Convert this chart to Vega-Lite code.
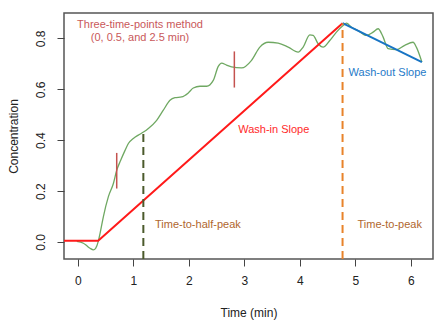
{
  "$schema": "https://vega.github.io/schema/vega-lite/v6.json",
  "autosize": "none",
  "width": 369,
  "height": 246,
  "padding": {"left": 64, "top": 13, "right": 2, "bottom": 62},
  "background": "white",
  "config": {
    "font": "Liberation Sans",
    "view": {"stroke": "#555555", "strokeWidth": 1.5},
    "axis": {"grid": false, "domain": false, "tickColor": "#444444", "tickSize": 7, "labelFont": "Liberation Sans", "titleFont": "Liberation Sans", "labelFontSize": 12, "titleFontSize": 12, "labelColor": "#222222", "titleColor": "#222222", "titleFontWeight": "normal"}
  },
  "encoding": {
    "x": {"field": "t", "type": "quantitative", "scale": {"domain": [-0.25, 6.4], "nice": false, "zero": false},
      "axis": {"title": "Time (min)", "values": [0, 1, 2, 3, 4, 5, 6], "labelPadding": 9, "titlePadding": 21}},
    "y": {"field": "c", "type": "quantitative", "scale": {"domain": [-0.067, 0.9], "nice": false, "zero": false},
      "axis": {"title": "Concentration", "values": [0, 0.2, 0.4, 0.6, 0.8], "format": ".1f", "labelAngle": -90, "labelAlign": "center", "labelBaseline": "bottom", "labelPadding": 10, "titlePadding": 14}}
  },
  "layer": [
    {
      "data": {"values": [
        {"t": -0.02, "c": 0.002}, {"t": 0.1, "c": -0.005}, {"t": 0.16, "c": -0.015}, {"t": 0.22, "c": -0.025},
        {"t": 0.28, "c": -0.031}, {"t": 0.32, "c": -0.025}, {"t": 0.37, "c": 0.004}, {"t": 0.40, "c": 0.034},
        {"t": 0.46, "c": 0.10}, {"t": 0.55, "c": 0.178}, {"t": 0.64, "c": 0.23}, {"t": 0.70, "c": 0.282},
        {"t": 0.77, "c": 0.32}, {"t": 0.85, "c": 0.36}, {"t": 0.91, "c": 0.387}, {"t": 1.0, "c": 0.407},
        {"t": 1.09, "c": 0.42}, {"t": 1.19, "c": 0.433}, {"t": 1.27, "c": 0.446}, {"t": 1.42, "c": 0.478},
        {"t": 1.54, "c": 0.518}, {"t": 1.66, "c": 0.557}, {"t": 1.75, "c": 0.567}, {"t": 1.87, "c": 0.57},
        {"t": 1.99, "c": 0.586}, {"t": 2.08, "c": 0.605}, {"t": 2.2, "c": 0.612}, {"t": 2.32, "c": 0.612},
        {"t": 2.44, "c": 0.635}, {"t": 2.53, "c": 0.69}, {"t": 2.59, "c": 0.703}, {"t": 2.68, "c": 0.695},
        {"t": 2.77, "c": 0.688}, {"t": 2.95, "c": 0.684}, {"t": 3.13, "c": 0.714}, {"t": 3.28, "c": 0.766},
        {"t": 3.43, "c": 0.785}, {"t": 3.61, "c": 0.782}, {"t": 3.79, "c": 0.766}, {"t": 3.97, "c": 0.746},
        {"t": 4.06, "c": 0.766}, {"t": 4.18, "c": 0.814}, {"t": 4.24, "c": 0.812}, {"t": 4.33, "c": 0.779},
        {"t": 4.42, "c": 0.766}, {"t": 4.54, "c": 0.792}, {"t": 4.66, "c": 0.825}, {"t": 4.78, "c": 0.851},
        {"t": 4.84, "c": 0.86}, {"t": 4.93, "c": 0.844}, {"t": 5.05, "c": 0.831}, {"t": 5.2, "c": 0.812},
        {"t": 5.32, "c": 0.825}, {"t": 5.41, "c": 0.838}, {"t": 5.5, "c": 0.806}, {"t": 5.59, "c": 0.76},
        {"t": 5.74, "c": 0.756}, {"t": 5.89, "c": 0.773}, {"t": 6.04, "c": 0.785}, {"t": 6.1, "c": 0.766},
        {"t": 6.2, "c": 0.707}
      ]},
      "mark": {"type": "line", "color": "#6fa862", "strokeWidth": 1.3, "interpolate": "monotone"}
    },
    {
      "data": {"values": [{"t": -0.25, "c": 0.005}, {"t": 0.366, "c": 0.005}, {"t": 4.77, "c": 0.86}]},
      "mark": {"type": "line", "color": "#ff1a1a", "strokeWidth": 2}
    },
    {
      "data": {"values": [{"t": 4.77, "c": 0.86}, {"t": 6.2, "c": 0.707}]},
      "mark": {"type": "line", "color": "#1874c4", "strokeWidth": 2}
    },
    {
      "data": {"values": [{"t": 1.18, "c": -0.067, "c2": 0.433}]},
      "mark": {"type": "rule", "color": "#4b5a2c", "strokeWidth": 2, "strokeDash": [8, 5]},
      "encoding": {"y2": {"field": "c2"}}
    },
    {
      "data": {"values": [{"t": 4.77, "c": -0.067, "c2": 0.86}]},
      "mark": {"type": "rule", "color": "#e8832a", "strokeWidth": 2, "strokeDash": [8, 5]},
      "encoding": {"y2": {"field": "c2"}}
    },
    {
      "data": {"values": [{"t": 0.7, "c": 0.21, "c2": 0.35}, {"t": 2.82, "c": 0.607, "c2": 0.749}]},
      "mark": {"type": "rule", "color": "#c4524f", "strokeWidth": 1.5},
      "encoding": {"y2": {"field": "c2"}}
    },
    {
      "data": {"values": [{"t": 1.12, "c": 0.851, "label": "Three-time-points  method"}, {"t": 1.12, "c": 0.8, "label": "(0, 0.5, and 2.5 min)"}]},
      "mark": {"type": "text", "color": "#c9585a", "fontSize": 11, "align": "center", "baseline": "middle"},
      "encoding": {"text": {"field": "label"}}
    },
    {
      "data": {"values": [{"t": 3.53, "c": 0.439, "label": "Wash-in Slope"}]},
      "mark": {"type": "text", "color": "#ff2a2a", "fontSize": 11, "align": "center", "baseline": "middle"},
      "encoding": {"text": {"field": "label"}}
    },
    {
      "data": {"values": [{"t": 5.58, "c": 0.664, "label": "Wash-out Slope"}]},
      "mark": {"type": "text", "color": "#1f7ac8", "fontSize": 11, "align": "center", "baseline": "middle"},
      "encoding": {"text": {"field": "label"}}
    },
    {
      "data": {"values": [{"t": 1.39, "c": 0.067, "label": "Time-to-half-peak"}, {"t": 5.04, "c": 0.067, "label": "Time-to-peak"}]},
      "mark": {"type": "text", "color": "#b0662e", "fontSize": 11, "align": "left", "baseline": "middle"},
      "encoding": {"text": {"field": "label"}}
    }
  ]
}
